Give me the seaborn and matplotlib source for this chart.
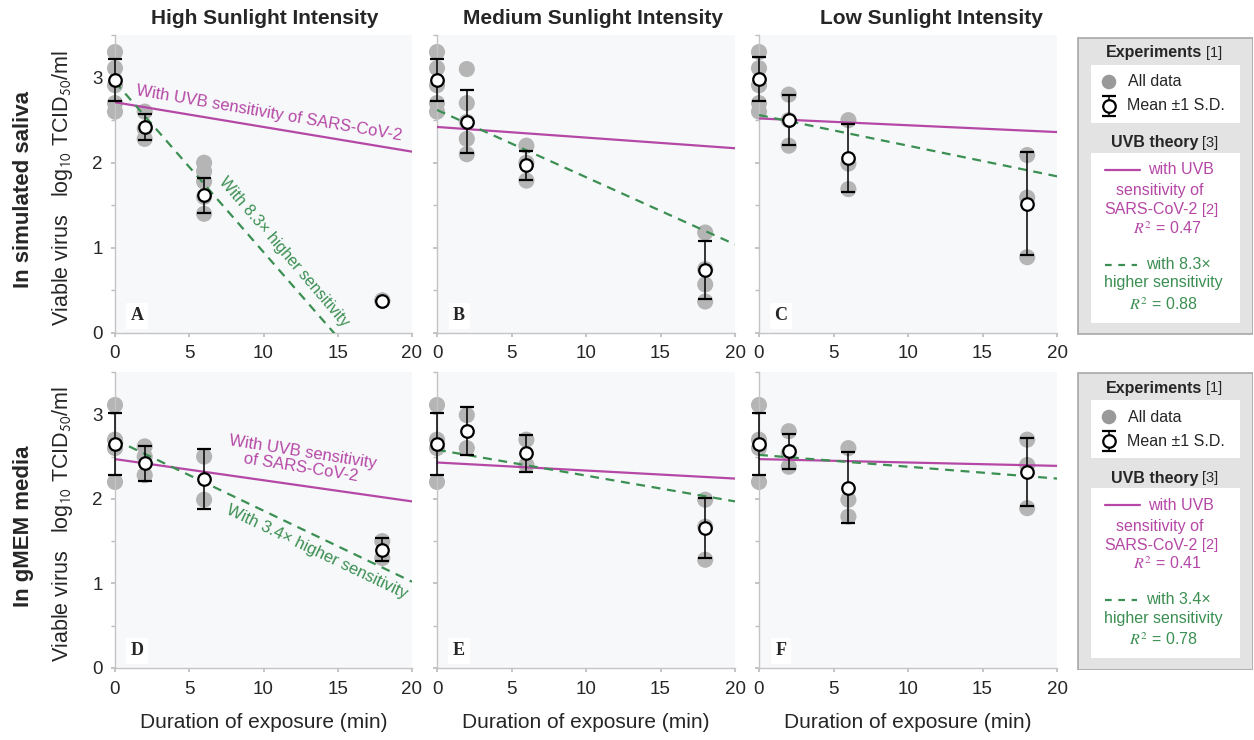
import numpy as np
import pandas as pd
import seaborn as sns
import matplotlib.pyplot as plt
from matplotlib.patches import Rectangle

# ---- data (log10 TCID50/ml) ----
times = [0, 2, 6, 18]
theory_t = [0, 20]

saliva_t0 = [3.30, 3.11, 2.91, 2.70, 2.60]
gmem_t0 = [3.11, 2.70, 2.60, 2.20]

A_points = [saliva_t0, [2.60, 2.40, 2.28], [2.00, 1.90, 1.78, 1.60, 1.40], [0.38, 0.38, 0.38]]
B_points = [saliva_t0, [3.10, 2.70, 2.48, 2.28, 2.10], [2.20, 2.00, 1.79], [1.18, 0.75, 0.57, 0.37]]
C_points = [saliva_t0, [2.80, 2.50, 2.20], [2.50, 1.99, 1.69], [2.09, 1.59, 0.89]]
D_points = [gmem_t0, [2.62, 2.50, 2.28], [2.50, 1.99], [1.50, 1.30]]
E_points = [gmem_t0, [2.99, 2.60], [2.70, 2.40], [1.99, 1.67, 1.28]]
F_points = [gmem_t0, [2.80, 2.54, 2.38], [2.60, 1.99, 1.79], [2.70, 2.40, 1.89]]

A_mean = [2.97, 2.42, 1.62, 0.38]
A_sd = [0.25, 0.155, 0.205, 0.0]
B_mean = [2.97, 2.48, 1.97, 0.74]
B_sd = [0.25, 0.37, 0.17, 0.34]
C_mean = [2.98, 2.50, 2.06, 1.52]
C_sd = [0.26, 0.29, 0.40, 0.60]
D_mean = [2.65, 2.42, 2.24, 1.40]
D_sd = [0.37, 0.205, 0.355, 0.14]
E_mean = [2.65, 2.80, 2.54, 1.65]
E_sd = [0.37, 0.285, 0.22, 0.355]
F_mean = [2.65, 2.56, 2.13, 2.32]
F_sd = [0.37, 0.205, 0.42, 0.405]

# theory lines at t = 0 and t = 20 min
A_uvb = [2.71, 2.13]
A_fit = [2.95, -1.05]
B_uvb = [2.42, 2.17]
B_fit = [2.62, 1.04]
C_uvb = [2.52, 2.36]
C_fit = [2.56, 1.84]
D_uvb = [2.47, 1.97]
D_fit = [2.70, 1.02]
E_uvb = [2.43, 2.24]
E_fit = [2.58, 1.97]
F_uvb = [2.47, 2.39]
F_fit = [2.52, 2.24]

col_titles = ['High Sunlight Intensity', 'Medium Sunlight Intensity', 'Low Sunlight Intensity']
row_titles = ['In simulated saliva', 'In gMEM media']
panel_letters = ['A', 'B', 'C', 'D', 'E', 'F']
fold = ['8.3', '3.4']
r2_uvb = ['0.47', '0.41']
r2_fit = ['0.88', '0.78']

MAG = '#b548a6'
GRN = '#3b8f52'
DOT = '#b5b5b5'

sns.set_theme(style='white')
plt.rcParams['font.family'] = ['Liberation Sans', 'DejaVu Sans']
plt.rcParams['mathtext.fontset'] = 'stix'

W, H = 1254, 740
fig = plt.figure(figsize=(W / 100, H / 100), dpi=100)


def px_axes(l, t, r, b):
    return fig.add_axes([l / W, 1 - b / H, (r - l) / W, (b - t) / H])


col_px = [(115, 412), (437, 735), (759, 1057)]
row_px = [(35, 333), (372, 668)]
title_cx = [265, 593, 931]

points = [A_points, B_points, C_points, D_points, E_points, F_points]
means = [A_mean, B_mean, C_mean, D_mean, E_mean, F_mean]
sds = [A_sd, B_sd, C_sd, D_sd, E_sd, F_sd]
uvbs = [A_uvb, B_uvb, C_uvb, D_uvb, E_uvb, F_uvb]
fits = [A_fit, B_fit, C_fit, D_fit, E_fit, F_fit]

for i in range(6):
    r, c = divmod(i, 3)
    ax = px_axes(col_px[c][0], row_px[r][0], col_px[c][1], row_px[r][1])
    ax.set_facecolor('#f7f8fa')

    df = pd.DataFrame({
        't': [t for t, vals in zip(times, points[i]) for _ in vals],
        'v': [v for vals in points[i] for v in vals],
    })
    sns.scatterplot(data=df, x='t', y='v', ax=ax, color=DOT, s=135,
                    edgecolor='none', clip_on=False, zorder=2, legend=False)

    th = pd.DataFrame({'t': theory_t, 'uvb': uvbs[i], 'fit': fits[i]})
    sns.lineplot(data=th, x='t', y='uvb', ax=ax, color=MAG, lw=1.6, zorder=3)
    sns.lineplot(data=th, x='t', y='fit', ax=ax, color=GRN, lw=1.6,
                 linestyle=(0, (4, 3)), zorder=3)

    ax.errorbar(times, means[i], yerr=sds[i], fmt='o', color='black',
                ms=9, mfc='white', mec='black', mew=1.6, elinewidth=1.1,
                capsize=5, capthick=1.8, zorder=4, clip_on=False)

    ax.set_xlim(0, 20)
    ax.set_ylim(0, 3.5)
    ax.set_xticks([0, 5, 10, 15, 20])
    ax.set_yticks([0, 1, 2, 3])
    ax.set_yticks([0.5, 1.5, 2.5, 3.5], minor=True)
    ax.tick_params(axis='both', which='both', direction='out', length=3,
                   color='#bdbdbd', labelsize=13.5, pad=6, left=True, bottom=True)
    if c > 0:
        ax.set_yticklabels([])
    for s in ['top', 'right']:
        ax.spines[s].set_visible(False)
    for s in ['left', 'bottom']:
        ax.spines[s].set_color('#c4c4c4')
        ax.spines[s].set_linewidth(1.0)
    ax.set_ylabel('')
    ax.set_xlabel('Duration of exposure (min)' if r == 1 else '', fontsize=15, labelpad=11)

    ax.text(0.074, 0.058, panel_letters[i], transform=ax.transAxes, ha='center', va='center',
            fontsize=13, fontweight='bold', family='Liberation Serif',
            bbox=dict(boxstyle='square,pad=0.25', fc='white', ec='none'), zorder=5)

    # inline labels on the first column
    if i == 0:
        ax.text(10.4, 2.58, 'With UVB sensitivity of SARS-CoV-2', color=MAG, fontsize=12,
                rotation=-9.7, ha='center', va='center', rotation_mode='anchor')
        ax.text(11.4, 0.95, 'With 8.3\u00d7 higher sensitivity', color=GRN, fontsize=11.5,
                rotation=-49.5, ha='center', va='center', rotation_mode='anchor')
    if i == 3:
        ax.text(12.6, 2.46, 'With UVB sensitivity\nof SARS-CoV-2', color=MAG, fontsize=12,
                rotation=-9, ha='center', va='center', rotation_mode='anchor', linespacing=1.0)
        ax.text(13.6, 1.37, 'With 3.4\u00d7 higher sensitivity', color=GRN, fontsize=12,
                rotation=-25.5, ha='center', va='center', rotation_mode='anchor')

for c in range(3):
    fig.text(title_cx[c] / W, 1 - 18 / H, col_titles[c], ha='center', va='center',
             fontsize=15, fontweight='bold')

for r in range(2):
    cy = 1 - ((row_px[r][0] + row_px[r][1]) / 2 + 6) / H
    fig.text(24 / W, cy, row_titles[r], rotation=90, ha='center', va='center',
             fontsize=16, fontweight='bold')
    fig.text(63 / W, cy + 2 / H, 'Viable virus   log$_{\\mathsf{10}}$ TCID$_{\\mathsf{50}}$/ml',
             rotation=90, ha='center', va='center', fontsize=15.5)


# ---- key panels on the right ----
def draw_key(top, k):
    ax = px_axes(1077, top, 1253, top + 298)
    ax.set_xlim(0, 176)
    ax.set_ylim(298, 0)
    ax.axis('off')
    ax.add_patch(Rectangle((0.5, 0.5), 175, 297, fc='#e3e3e3', ec='#a8a8a8', lw=1.2))
    ax.add_patch(Rectangle((14, 28), 149, 58, fc='white', ec='none'))
    ax.add_patch(Rectangle((14, 116), 149, 170, fc='white', ec='none'))

    ax.text(125, 16, 'Experiments', ha='right', va='center', fontsize=11.5, fontweight='bold')
    ax.text(129, 16, '[1]', ha='left', va='center', fontsize=10.5)
    ax.scatter([32], [45], s=110, color='#999999', edgecolor='none')
    ax.text(51, 45, 'All data', ha='left', va='center', fontsize=11.5)
    ax.errorbar([32], [69], yerr=[10], fmt='o', color='black', ms=9, mfc='white',
                mec='black', mew=1.6, elinewidth=1.1, capsize=5, capthick=1.8)
    ax.text(50, 69, 'Mean \u00b11 S.D.', ha='left', va='center', fontsize=11.5)

    ax.text(121, 106, 'UVB theory', ha='right', va='center', fontsize=11.5, fontweight='bold')
    ax.text(125, 106, '[3]', ha='left', va='center', fontsize=10.5)

    ax.plot([28, 63], [133, 133], color=MAG, lw=1.6)
    ax.text(71, 133, 'with UVB', color=MAG, ha='left', va='center', fontsize=11.5)
    ax.text(83, 154, 'sensitivity of', color=MAG, ha='center', va='center', fontsize=11.5)
    ax.text(121, 173, 'SARS-CoV-2', color=MAG, ha='right', va='center', fontsize=11.5)
    ax.text(125, 173, '[2]', color=MAG, ha='left', va='center', fontsize=10.5)
    ax.text(90, 192, '$R^2$ = ' + r2_uvb[k], color=MAG, ha='center', va='center', fontsize=11.5)

    ax.plot([28, 60], [228, 228], color=GRN, lw=1.6, linestyle=(0, (3, 3)))
    ax.text(69, 228, 'with ' + fold[k] + '\u00d7', color=GRN, ha='left', va='center', fontsize=11.5)
    ax.text(86, 246, 'higher sensitivity', color=GRN, ha='center', va='center', fontsize=11.5)
    ax.text(86, 268, '$R^2$ = ' + r2_fit[k], color=GRN, ha='center', va='center', fontsize=11.5)


draw_key(37, 0)
draw_key(372, 1)

plt.savefig('out.png', dpi=100)
